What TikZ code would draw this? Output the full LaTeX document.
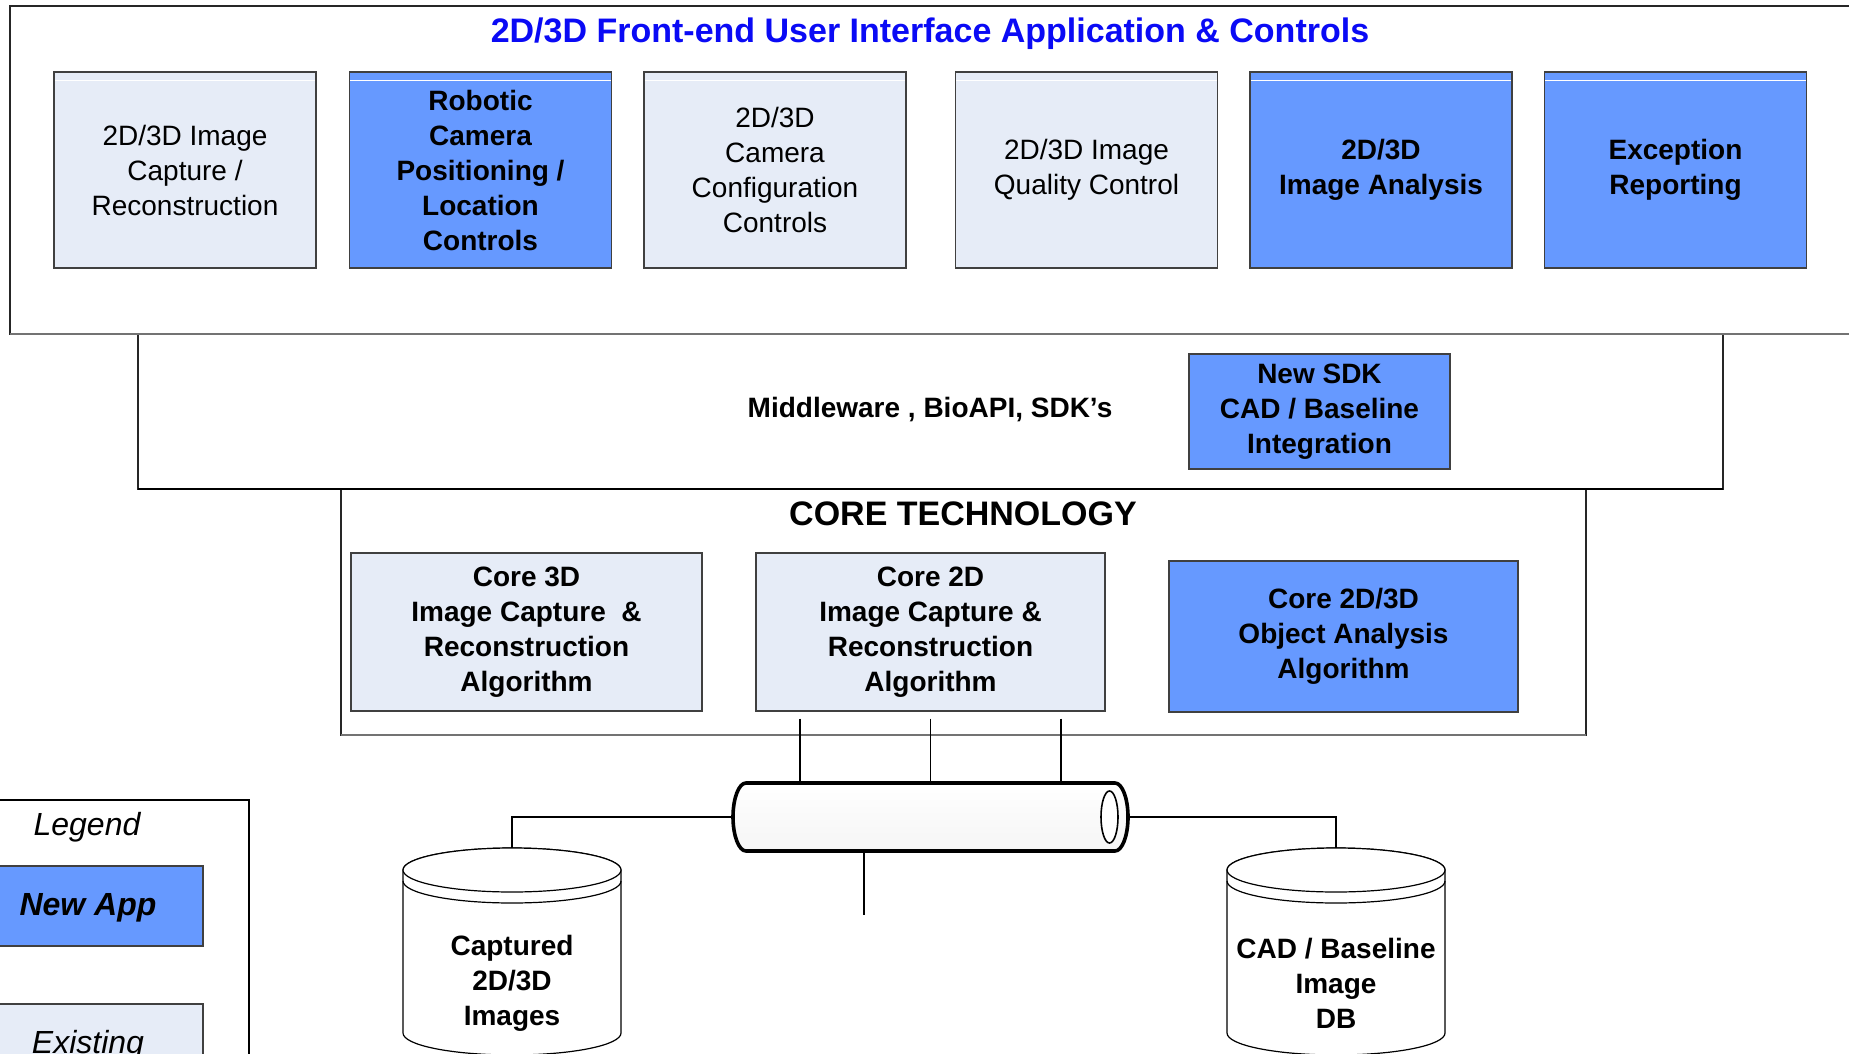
\documentclass[tikz,border=0pt]{standalone}
\usepackage{fontspec}
\setmainfont{Liberation Sans}
\definecolor{newblue}{HTML}{6699FF}
\definecolor{oldfill}{HTML}{E6ECF7}
\definecolor{titleblue}{HTML}{0A0AF5}
\definecolor{pipemid}{HTML}{E9EAE0}
\begin{document}
\begin{tikzpicture}[x=1pt, y=-1pt, line join=miter]
\tikzset{
  panel/.style={draw=black!85, line width=1.3pt, fill=white},
  panelbase/.style={draw=black!55, line width=2.4pt},
  appbox/.style={draw=black!75, line width=1.3pt, fill=oldfill, minimum width=262pt,
    minimum height=196pt, inner sep=0pt, align=center, font=\fontsize{28}{35}\selectfont},
  newapp/.style={appbox, fill=newblue, font=\fontsize{28}{35}\selectfont\bfseries},
  corebox/.style={draw=black!75, line width=1.3pt, fill=oldfill, inner sep=0pt,
    align=center, font=\fontsize{28}{35}\selectfont\bfseries},
  corenew/.style={corebox, fill=newblue},
  sheen/.style={draw=white, line width=1.2pt},
  link/.style={draw=black, line width=1.7pt},
  tap/.style={draw=black, line width=1.3pt},
  dbtext/.style={align=center, font=\fontsize{28}{35}\selectfont\bfseries, inner sep=0pt},
  dbshape/.style={draw=black, line width=1.2pt, fill=white},
  headline/.style={inner sep=0pt, anchor=base, font=\fontsize{34}{40}\selectfont\bfseries},
  keytext/.style={inner sep=0pt, anchor=base, font=\fontsize{32}{38}\selectfont\itshape},
}
\useasboundingbox (0,0) rectangle (1849,1054);
\clip (0,0) rectangle (1849,1054);

% ---- front-end application layer ----
\draw[panel] (10,6) rectangle (1870,334);
\node[headline, text=titleblue] (fronttitle) at (930,43)
  {2D/3D Front-end User Interface Application \& Controls};

\node[appbox] (b1) at (185,170) {2D/3D Image\\Capture /\\Reconstruction};
\node[newapp] (b2) at (480.5,170) {Robotic\\Camera\\Positioning /\\Location\\Controls};
\node[appbox] (b3) at (775,170) {2D/3D\\Camera\\Configuration\\Controls};
\node[appbox] (b4) at (1086.5,170) {2D/3D Image\\Quality Control};
\node[newapp] (b5) at (1381,170) {2D/3D\\Image Analysis};
\node[newapp] (b6) at (1675.5,170) {Exception\\Reporting};
\foreach \n in {b1,b2,b3,b4,b5,b6}
  \draw[sheen] ([xshift=1.5pt,yshift=-9pt]\n.north west) -- ([xshift=-1.5pt,yshift=-9pt]\n.north east);

% ---- middleware layer ----
\draw[panel] (138,334) rectangle (1723,489);
\draw[panelbase] (10,334) -- (1870,334);
\node[inner sep=0pt, font=\fontsize{28}{35}\selectfont\bfseries] (middle) at (930,410)
  {Middleware , BioAPI, SDK’s};
\node[corenew, minimum width=261pt, minimum height=115pt] (sdk) at (1319.5,411.5)
  {New SDK\\CAD / Baseline\\Integration};

% ---- core technology layer ----
\draw[panel] (341,489) rectangle (1586,735);
\draw[draw=black, line width=2pt] (138,489) -- (1723,489);
\draw[panelbase] (341,735) -- (1586,735);
\node[headline] (coretitle) at (963,525) {CORE TECHNOLOGY};
\node[corebox, minimum width=351pt, minimum height=158pt] (core3d) at (526.5,632)
  {Core 3D\\Image Capture~ \&\\Reconstruction\\Algorithm};
\node[corebox, minimum width=349pt, minimum height=158pt] (core2d) at (930.5,632)
  {Core 2D\\Image Capture \&\\Reconstruction\\Algorithm};
\node[corenew, minimum width=349pt, minimum height=151pt] (coreobj) at (1343.5,636.5)
  {Core 2D/3D\\Object Analysis\\Algorithm};

% ---- data bus (pipe) ----
\coordinate (pipeW) at (733,817);
\coordinate (pipeE) at (1128,817);
\coordinate (p1) at (800,783);
\coordinate (p2) at (930.5,783);
\coordinate (p3) at (1061,783);
\coordinate (pipeS) at (864,851);
\coordinate (stubEnd) at (864,915);
\coordinate (capTop) at (512,848);
\coordinate (cadTop) at (1336,848);

\draw[tap] ([yshift=-7pt]core2d.south -| p1) -- (p1);
\draw[tap] ([yshift=-7pt]core2d.south -| p2) -- (p2);
\draw[tap] ([yshift=-7pt]core2d.south -| p3) -- (p3);
\draw[link] (pipeW) -| (capTop);
\draw[link] (pipeE) -| (cadTop);
\draw[tap] (pipeS) -- (stubEnd);

\draw[line width=3.6pt, top color=white, middle color=pipemid, bottom color=white!96!black]
  (746,783) -- (1115,783)
  arc[start angle=90, end angle=-90, x radius=13pt, y radius=34pt]
  -- (746,851)
  arc[start angle=270, end angle=90, x radius=13pt, y radius=34pt] -- cycle;
\draw[line width=1.6pt, fill=white] (1109.5,817) ellipse[x radius=8.5pt, y radius=26pt];

% ---- databases ----
\foreach \cx in {512,1336} {
  \draw[dbshape] (\cx-109,870) -- (\cx-109,1033)
    arc[start angle=180, end angle=360, x radius=109pt, y radius=22pt]
    -- (\cx+109,870)
    arc[start angle=0, end angle=180, x radius=109pt, y radius=22pt] -- cycle;
  \draw[dbshape] (\cx,870) ellipse[x radius=109pt, y radius=22pt];
  \draw[draw=black, line width=1.2pt] (\cx-109,881)
    arc[start angle=180, end angle=360, x radius=109pt, y radius=22pt];
}
\node[dbtext] (captured) at (512,983) {Captured\\2D/3D\\Images};
\node[dbtext] (caddb) at (1336,983) {CAD / Baseline\\Image\\DB};

% ---- legend ----
\draw[draw=black, line width=1.6pt] (-5,800) -- (249,800) -- (249,1070);
\node[keytext] (legendtitle) at (87,835) {Legend};
\node[draw=black!75, line width=1.3pt, fill=newblue, inner sep=0pt,
  minimum width=218pt, minimum height=80pt] (keynew) at (94,906) {};
\node[keytext, font=\fontsize{32}{38}\selectfont\bfseries\itshape] (keynewtext) at (88,915) {New App};
\node[draw=black!75, line width=1.3pt, fill=oldfill, inner sep=0pt,
  minimum width=218pt, minimum height=80pt] (keyold) at (94,1044) {};
\node[keytext] (keyoldtext) at (88,1053) {Existing};
\end{tikzpicture}
\end{document}
